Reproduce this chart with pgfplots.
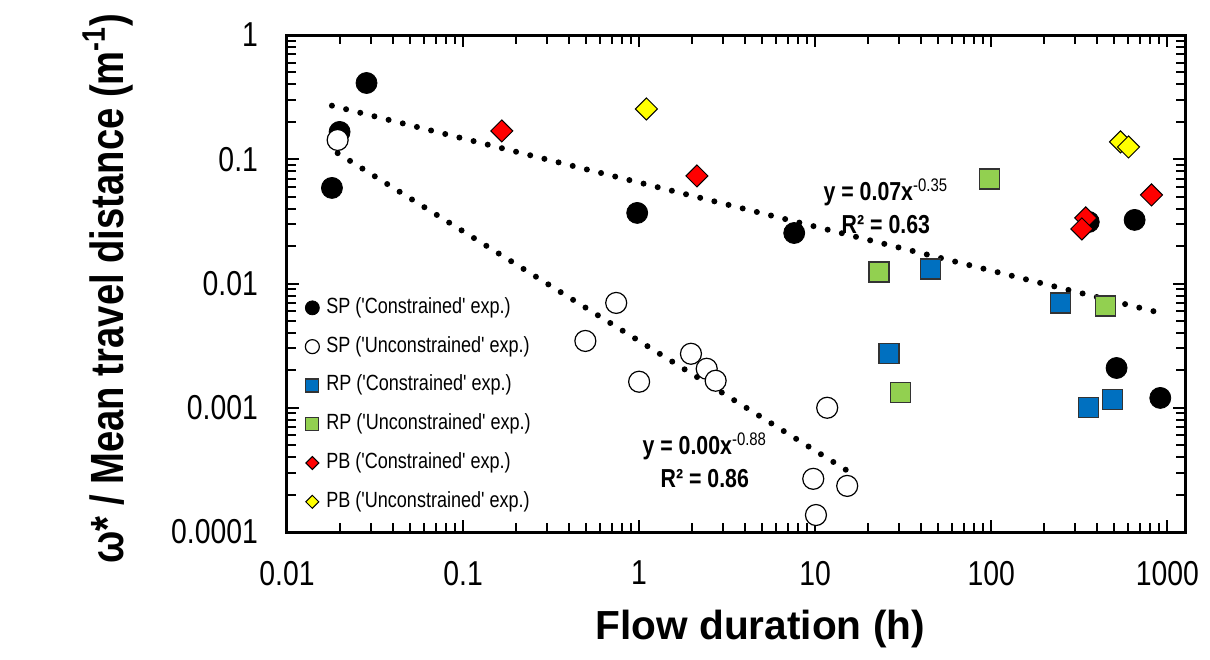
\documentclass[border=0pt]{standalone}
\usepackage{fontspec}
\setmainfont{Liberation Sans}
\newfontfamily\nar{Liberation Sans}[FakeStretch=0.82]
\newfontfamily\narq{Liberation Sans}[FakeStretch=0.82, Ligatures=TeXOff]
\usepackage{pgfplots}
\pgfplotsset{compat=1.18}
\definecolor{rpblue}{HTML}{0070C0}
\definecolor{rpgreen}{HTML}{92D050}
\definecolor{pbred}{HTML}{FF0000}
\definecolor{pbyellow}{HTML}{FFFF00}
\begin{document}
\begin{tikzpicture}
\useasboundingbox (-143.5pt,-63.5pt) rectangle (461.5pt,266pt);
\begin{axis}[
  at={(0pt,0pt)}, anchor=south west,
  scale only axis, width=449pt, height=248.5pt,
  xmode=log, ymode=log,
  xmin=0.01, xmax=1260, ymin=1e-4, ymax=1,
  xtick={0.01,0.1,1,10,100,1000},
  xticklabels={0.01,0.1,1,10,100,1000},
  ytick={1e-4,1e-3,1e-2,1e-1,1},
  yticklabels={0.0001,0.001,0.01,0.1,1},
  tick align=inside,
  major tick length=6pt, minor tick length=4.5pt,
  every tick/.style={black, line width=1pt},
  axis line style={line width=1.5pt},
  xticklabel style={font=\nar\fontsize{17.3}{18}\selectfont, yshift=-11pt},
  yticklabel style={font=\nar\fontsize{17.3}{18}\selectfont, xshift=-11pt},
  xlabel={\textbf{Flow duration (h)}},
  xlabel style={font=\bfseries\fontsize{20.3}{24}\selectfont, at={(axis description cs:0.527,-0.217)}, anchor=base},
  ylabel={\textbf{ω* / Mean travel distance (m\textsuperscript{-1})}},
  ylabel style={font=\nar\bfseries\fontsize{23.3}{26}\selectfont, at={(axis description cs:-0.1826,0.49)}, anchor=base, rotate=0},
  legend style={at={(0.02,0.477)}, anchor=north west, draw=none, fill=none,
    font=\narq\fontsize{11}{13}\selectfont, row sep=6.9pt, inner sep=0pt,
    nodes={inner sep=1pt, text height=8pt, text depth=2.5pt}},
  legend cell align=left,
  legend image code/.code={\draw[#1] plot coordinates {(0pt,0pt)}; \path[draw=none, fill=none] (-3.5pt,0pt) -- (6pt,0pt);},
]
\addlegendimage{only marks, mark=*, mark size=3.5pt, draw=black, fill=black}
\addlegendentry{SP ('Constrained' exp.)}
\addlegendimage{only marks, mark=*, mark size=3.5pt, draw=black, fill=white, line width=0.6pt}
\addlegendentry{SP ('Unconstrained' exp.)}
\addlegendimage{only marks, mark=square*, mark size=3.25pt, draw=black!80, fill=rpblue, line width=0.6pt}
\addlegendentry{RP ('Constrained' exp.)}
\addlegendimage{only marks, mark=square*, mark size=3.25pt, draw=black!80, fill=rpgreen, line width=0.6pt}
\addlegendentry{RP ('Unconstrained' exp.)}
\addlegendimage{only marks, mark=square*, mark size=2.3pt, mark options={rotate=45}, draw=black, fill=pbred, line width=0.5pt}
\addlegendentry{PB ('Constrained' exp.)}
\addlegendimage{only marks, mark=square*, mark size=2.3pt, mark options={rotate=45}, draw=black, fill=pbyellow, line width=0.5pt}
\addlegendentry{PB ('Unconstrained' exp.)}

% SP constrained
\addplot[forget plot, only marks, mark=*, mark size=5.25pt, draw=black, fill=black] coordinates {
 (0.018,0.0588) (0.0199,0.166) (0.0283,0.411) (0.975,0.037) (7.6,0.0255)
 (358,0.0313) (652,0.0325) (515,0.00209) (912,0.0012)};
% SP unconstrained
\addplot[forget plot, only marks, mark=*, mark size=5.25pt, draw=black, fill=white, line width=0.6pt] coordinates {
 (0.0194,0.143) (0.741,0.00698) (0.495,0.00345) (1.0,0.00162) (1.97,0.00272)
 (2.42,0.00206) (2.72,0.00165) (11.7,0.001) (9.75,0.000268) (15.2,0.000235) (10.1,0.000137)};
% RP constrained
\addplot[forget plot, only marks, mark=square*, mark size=5pt, draw=black!80, fill=rpblue, line width=0.7pt] coordinates {
 (45.2,0.0131) (26.2,0.00272) (248,0.00698) (358,0.001) (489,0.00116)};
% RP unconstrained
\addplot[forget plot, only marks, mark=square*, mark size=5pt, draw=black!80, fill=rpgreen, line width=0.7pt] coordinates {
 (97.5,0.0695) (23.0,0.0124) (30.6,0.00132) (447,0.0066)};
% PB constrained
\addplot[forget plot, only marks, mark=square*, mark size=3.9pt, mark options={rotate=45}, draw=black, fill=pbred, line width=0.5pt] coordinates {
 (0.166,0.169) (2.13,0.0734) (344,0.0337) (327,0.0275) (813,0.0516)};
% PB unconstrained
\addplot[forget plot, only marks, mark=square*, mark size=3.9pt, mark options={rotate=45}, draw=black, fill=pbyellow, line width=0.5pt] coordinates {
 (1.10,0.254) (542,0.138) (602,0.1256)};
% trend lines
\addplot[forget plot, black, line width=3pt, line cap=round, dash pattern=on 0pt off 7.3pt] coordinates {(0.018,0.27) (912,0.0058)};
\addplot[forget plot, black, line width=3pt, line cap=round, dash pattern=on 0pt off 7.3pt] coordinates {(0.0194,0.112) (15.2,0.000312)};

\node[font=\nar\bfseries\fontsize{13}{16.5}\selectfont, align=center] at (axis cs:25.2,0.0421) {y = 0.07x\textsuperscript{\mdseries -0.35}\\R² = 0.63};
\node[font=\nar\bfseries\fontsize{13}{16.5}\selectfont, align=center] at (axis cs:2.36,0.000377) {y = 0.00x\textsuperscript{\mdseries -0.88}\\R² = 0.86};
\end{axis}
\end{tikzpicture}
\end{document}
